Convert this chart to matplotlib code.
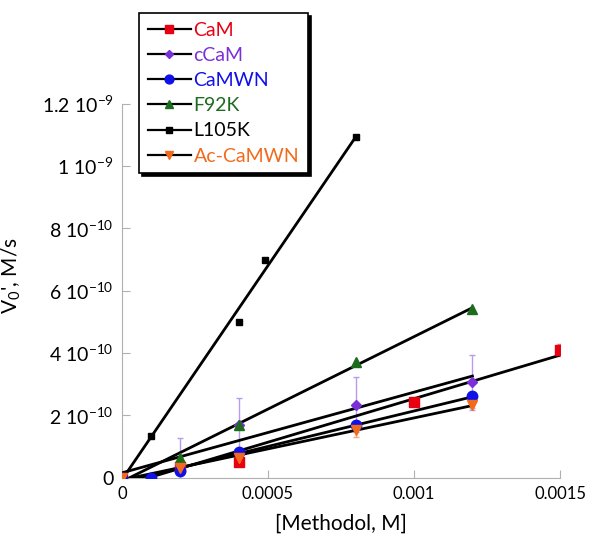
import numpy as np
import matplotlib
matplotlib.use("Agg")
import matplotlib.pyplot as plt
from matplotlib.lines import Line2D

plt.rcParams['font.family'] = ['Lato', 'DejaVu Sans']
plt.rcParams['mathtext.default'] = 'regular'

# data (x in M, y in M/s)
cam_x = [0, 0.0002, 0.0004, 0.001, 0.0015]
cam_y = [0, 0.35e-10, 0.52e-10, 2.42e-10, 4.1e-10]
cam_err = [0, 0, 0, 0, 0.2e-10]

ccam_x = [0, 0.0002, 0.0004, 0.0008, 0.0012]
ccam_y = [0, 0.42e-10, 1.7e-10, 2.35e-10, 3.06e-10]
ccam_err = [0, 0.87e-10, 0.87e-10, 0.87e-10, 0.87e-10]

camwn_x = [0, 0.0001, 0.0002, 0.0004, 0.0008, 0.0012]
camwn_y = [0, 0.0, 0.23e-10, 0.84e-10, 1.68e-10, 2.61e-10]

f92k_x = [0, 0.0002, 0.0004, 0.0008, 0.0012]
f92k_y = [0, 0.65e-10, 1.71e-10, 3.71e-10, 5.42e-10]

l105k_x = [0, 0.0001, 0.0004, 0.00049, 0.0008]
l105k_y = [0, 1.35e-10, 5.0e-10, 7.0e-10, 10.94e-10]

ac_x = [0, 0.0002, 0.0004, 0.0008, 0.0012]
ac_y = [0, 0.32e-10, 0.65e-10, 1.52e-10, 2.35e-10]
ac_err = [0, 0, 0.13e-10, 0.2e-10, 0.12e-10]

names = ['CaM', 'cCaM', 'CaMWN', 'F92K', 'L105K', 'Ac-CaMWN']
colors = ['#e60012', '#7a2fd8', '#1010e8', '#1d6b1d', '#000000', '#f26a1b']
err_colors = ['#f08080', '#b89af0', None, None, None, '#f5a878']
markers = ['s', 'D', 'o', '^', 's', 'v']
msizes = [7.5, 5, 7.5, 6.5, 4.5, 6.5]

xs = [cam_x, ccam_x, camwn_x, f92k_x, l105k_x, ac_x]
ys = [cam_y, ccam_y, camwn_y, f92k_y, l105k_y, ac_y]
errs = [cam_err, ccam_err, None, None, None, ac_err]

fig = plt.figure(figsize=(5.92, 5.43), dpi=100)
ax = fig.add_axes([0.206, 0.12, 0.74, 0.689])

for i in range(6):
    x = np.array(xs[i])
    y = np.array(ys[i])
    if errs[i] is not None:
        ax.errorbar(x, y, yerr=errs[i], fmt='none', ecolor=err_colors[i],
                    elinewidth=1, capsize=2, zorder=2)
    ax.plot(x, y, linestyle='none', marker=markers[i], color=colors[i],
            markersize=msizes[i], zorder=4)
    # linear fit
    k, b = np.polyfit(x, y, 1)
    xf = np.array([x.min(), x.max()])
    ax.plot(xf, k * xf + b, color='black', lw=2, zorder=3)

ax.set_xlim(0, 0.0015)
ax.set_ylim(0, 1.2e-9)
ax.set_xticks([0, 0.0005, 0.001, 0.0015])
ax.set_xticklabels(['0', '0.0005', '0.001', '0.0015'])
yt = [0, 2e-10, 4e-10, 6e-10, 8e-10, 1e-9, 1.2e-9]
ax.set_yticks(yt)
ax.set_yticklabels(['0', '2 10$^{-10}$', '4 10$^{-10}$', '6 10$^{-10}$',
                    '8 10$^{-10}$', '1 10$^{-9}$', '1.2 10$^{-9}$'])
ax.tick_params(direction='in', length=6, color='#b0b0b0', labelsize=12, pad=6)
ax.tick_params(axis='y', labelsize=14)
for s in ['top', 'right']:
    ax.spines[s].set_visible(False)
for s in ['left', 'bottom']:
    ax.spines[s].set_color('#b0b0b0')

ax.set_xlabel('[Methodol, M]', fontsize=15, labelpad=8)
ax.set_ylabel("V$_0$', M/s", fontsize=15)
ax.yaxis.set_label_coords(-0.225, 0.54)

handles = [Line2D([], [], color='black', lw=1.6, marker=markers[i],
                  markerfacecolor=colors[i], markeredgecolor=colors[i],
                  markersize=msizes[i] * 0.85) for i in range(6)]
leg = fig.legend(handles, names, loc='upper left',
                 bbox_to_anchor=(139 / 592, 1 - 13 / 543), borderaxespad=0,
                 fontsize=14, handlelength=2.2, handletextpad=0.15,
                 labelspacing=0.42, borderpad=0.45, fancybox=False,
                 shadow={'color': 'black', 'alpha': 1}, framealpha=1)
leg.get_frame().set_edgecolor('black')
leg.get_frame().set_linewidth(1.2)
for t, c in zip(leg.get_texts(), colors):
    t.set_color(c)

fig.savefig('out.png', dpi=100)
